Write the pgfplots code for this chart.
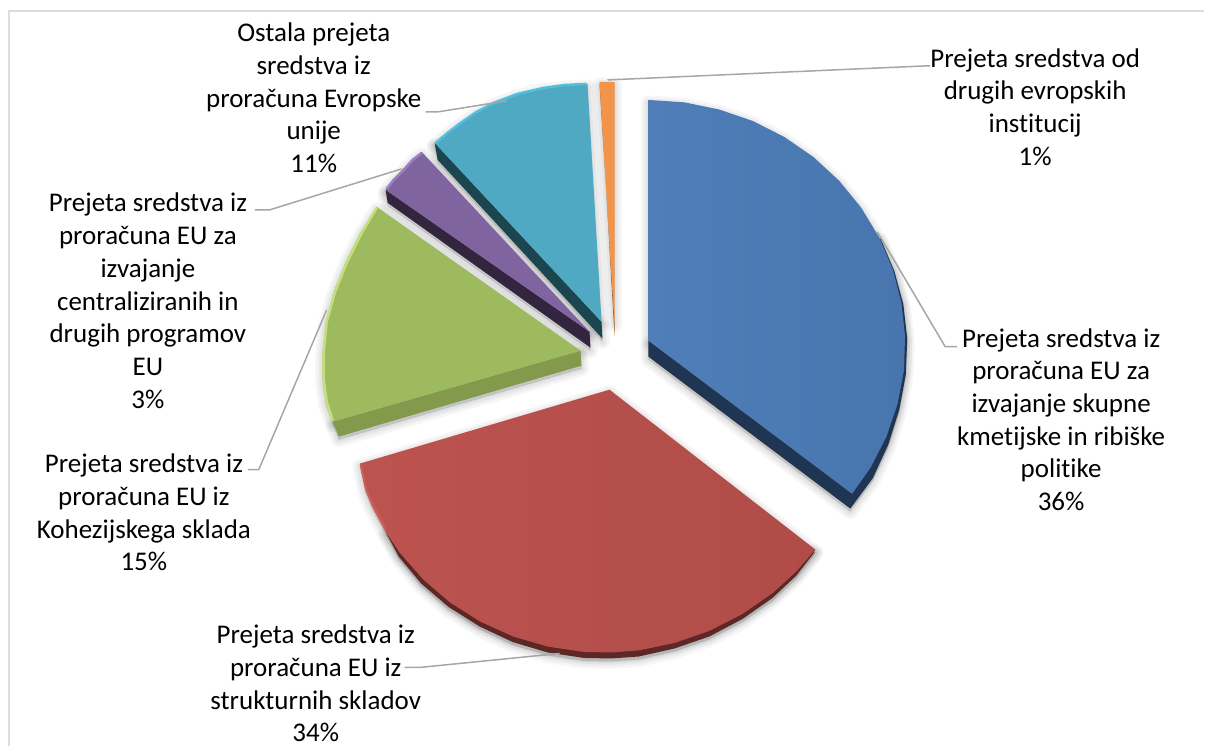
\documentclass[border=0pt]{standalone}
\usepackage{pgfplots}
\usepackage{pgfplotstable}
\usepackage{fontspec}
\setmainfont{Carlito}[Ligatures=NoCommon]
\pgfplotsset{compat=1.18}

\definecolor{leader}{HTML}{A6A6A6}
\definecolor{frame}{HTML}{DEDEDE}
\definecolor{blueA}{HTML}{4F7EB8}
\definecolor{blueB}{HTML}{4875AE}
\definecolor{blueside}{HTML}{1F3552}
\definecolor{redA}{HTML}{BC534F}
\definecolor{redB}{HTML}{B04C48}
\definecolor{redside}{HTML}{5C2725}
\definecolor{redlight}{HTML}{CC5F5B}
\definecolor{greenface}{HTML}{9DBB5E}
\definecolor{greenside}{HTML}{839A4D}
\definecolor{greenlight}{HTML}{C5E07A}
\definecolor{purpleface}{HTML}{7F64A0}
\definecolor{purpleside}{HTML}{33243F}
\definecolor{purplelight}{HTML}{9A80C4}
\definecolor{cyanface}{HTML}{4FA9C3}
\definecolor{cyanside}{HTML}{1B454F}
\definecolor{cyanlight}{HTML}{4FC0DE}
\definecolor{orangeface}{HTML}{F2944A}
\definecolor{orangeside}{HTML}{9C5A20}

\tikzset{lbl/.style={font=\fontsize{27}{32.7}\selectfont, align=center, text=black, inner sep=0pt}}

% slice outlines in pixels
\pgfplotstableread{
x y
649 100
684.8 102.4
719.8 109.6
753.5 121.1
785.2 137.2
814.3 157.3
840 181.1
862 208
880 237.7
893.4 269.3
902.1 302.4
905.8 336.4
904.7 370.7
898.3 404.3
887.2 436.9
871.6 467.5
852.8 494.2
649 341
}\blueslice
\pgfplotstableread{
x y
649 341
649 357
851 509
873.6 478.5
889 445
900 410
906.5 375
908 339
904 304
895 271
881 238
}\bluesidepts
\pgfplotstableread{
x y
610 390
816 550
797.2 571.8
773.4 593.5
743 614.5
710.2 631.3
675.4 643.4
639.5 650.9
612 653
584.5 652.5
548.6 647.2
513.8 637.1
481 622.3
450.6 603.1
423.6 580
400 553.1
385.1 530.8
372.5 507.2
365.7 490.6
360 464
}\redslice
\pgfplotstableread{
x y
816 550
814 554
797 576
773 598.5
743 619.5
710 637
675 649
639.5 657
612 659
584.5 658.5
548 653
513 642.5
480 627
449 607.5
421.5 584
399 557
386 532
600 500
}\redsidepts
\pgfplotstableread{
x y
581 351
377 207
360 234
346 262
334 292
326 322
323 352
323 380
326 402
333 422
}\greenslice
\pgfplotstableread{
x y
333 422
339 437
582 366
581 351
}\greensidepts
\pgfplotstableread{
x y
590 332
422 152
412 160
403 170
393 180
386 190
}\purpleslice
\pgfplotstableread{
x y
386 190
388 203
591 348
590 332
}\purplesidepts
\pgfplotstableread{
x y
602 322
588 84
565 85
543 88
517 94
493 103
476 112
460 123
447 133
435 143
}\cyanslice
\pgfplotstableread{
x y
435 143
438 160
603 339
602 322
}\cyansidepts
\pgfplotstableread{
x y
615 322
615 82
600 82
}\orangeslice
\pgfplotstableread{
x y
600 83
601 90
615 336
615 322
}\orangesidepts

% soft shadow: stacked wide strokes at low opacity
\newcommand{\softshadow}[1]{%
  \addplot[draw=black, fill=black, opacity=.035, line width=15pt, line join=round]
    table[x expr=\thisrow{x}, y expr=\thisrow{y}+3] {#1} -- cycle;
  \addplot[draw=black, fill=black, opacity=.035, line width=10pt, line join=round]
    table[x expr=\thisrow{x}, y expr=\thisrow{y}+3] {#1} -- cycle;
  \addplot[draw=black, fill=black, opacity=.035, line width=6pt, line join=round]
    table[x expr=\thisrow{x}, y expr=\thisrow{y}+3] {#1} -- cycle;
  \addplot[draw=black, fill=black, opacity=.035, line width=2pt, line join=round]
    table[x expr=\thisrow{x}, y expr=\thisrow{y}+3] {#1} -- cycle;
}

\begin{document}
\begin{tikzpicture}
\begin{axis}[
  width=1205pt, height=747pt, scale only axis,
  xmin=0, xmax=1205, ymin=0, ymax=747,
  y dir=reverse,
  hide axis,
  clip=false,
]
% keeps the page at full size
\addplot[draw=none] coordinates {(0,0) (1205,747)};

% chart frame
\addplot[frame, line width=2pt] coordinates {(9,747) (9,11) (1205,11)};

\softshadow{\blueslice}
\softshadow{\bluesidepts}
\softshadow{\redslice}
\softshadow{\redsidepts}
\softshadow{\greenslice}
\softshadow{\greensidepts}
\softshadow{\purpleslice}
\softshadow{\purplesidepts}
\softshadow{\cyanslice}
\softshadow{\cyansidepts}
\softshadow{\orangeslice}

% sides
\addplot[fill=blueside, draw=none] table {\bluesidepts} -- cycle;
\addplot[fill=redside, draw=none] table {\redsidepts} -- cycle;
\addplot[fill=greenside, draw=none] table {\greensidepts} -- cycle;
\addplot[fill=purpleside, draw=none] table {\purplesidepts} -- cycle;
\addplot[fill=cyanside, draw=none] table {\cyansidepts} -- cycle;
\addplot[fill=orangeside, draw=none] table {\orangesidepts} -- cycle;

% top faces
\addplot[left color=blueA, right color=blueB, draw=none] table {\blueslice} -- cycle;
\addplot[left color=redA, right color=redB, draw=none] table {\redslice} -- cycle;
\addplot[fill=greenface, draw=none] table {\greenslice} -- cycle;
\addplot[fill=purpleface, draw=none] table {\purpleslice} -- cycle;
\addplot[fill=cyanface, draw=none] table {\cyanslice} -- cycle;
\addplot[fill=orangeface, draw=none] table {\orangeslice} -- cycle;

% bevel highlights on the outer edges
\addplot[redlight, line width=2pt] coordinates {(361,465) (366.5,490) (373.5,506) (386,530)};
\addplot[greenlight, line width=2.5pt] coordinates {(377,208) (361,235) (347,263) (335,293) (327,322) (324,352) (324,380) (327,402) (333,421)};
\addplot[purplelight, line width=2.5pt] coordinates {(387,189) (394,180) (404,170) (413,160) (422,153)};
\addplot[cyanlight, line width=2.5pt] coordinates {(436,143) (448,133) (461,123) (477,112) (494,103) (518,94) (544,88) (566,85) (587,84)};

% leader lines
\addplot[leader, line width=1.5pt] coordinates {(608,80) (925,66) (931,66)};
\addplot[leader, line width=1.5pt] coordinates {(507,101) (438,112) (426,112)};
\addplot[leader, line width=1.5pt] coordinates {(402,169) (270,210) (255,210)};
\addplot[leader, line width=1.5pt] coordinates {(327,310) (259,470) (248,470)};
\addplot[leader, line width=1.5pt] coordinates {(560,654) (420,668) (405,668)};
\addplot[leader, line width=1.5pt] coordinates {(878,232) (946,347) (958,347)};

% data labels
\node[lbl] at (axis cs:1062,420) {Prejeta sredstva iz\\proračuna EU za\\izvajanje skupne\\kmetijske in ribiške\\politike\\36\%};
\node[lbl] at (axis cs:1036,107) {Prejeta sredstva od\\drugih evropskih\\institucij\\1\%};
\node[lbl] at (axis cs:314,98) {Ostala prejeta\\sredstva iz\\proračuna Evropske\\unije\\11\%};
\node[lbl] at (axis cs:148,301) {Prejeta sredstva iz\\proračuna EU za\\izvajanje\\centraliziranih in\\drugih programov\\EU\\3\%};
\node[lbl] at (axis cs:144,513) {Prejeta sredstva iz\\proračuna EU iz\\Kohezijskega sklada\\15\%};
\node[lbl] at (axis cs:316,684) {Prejeta sredstva iz\\proračuna EU iz\\strukturnih skladov\\34\%};
\end{axis}
\end{tikzpicture}
\end{document}
